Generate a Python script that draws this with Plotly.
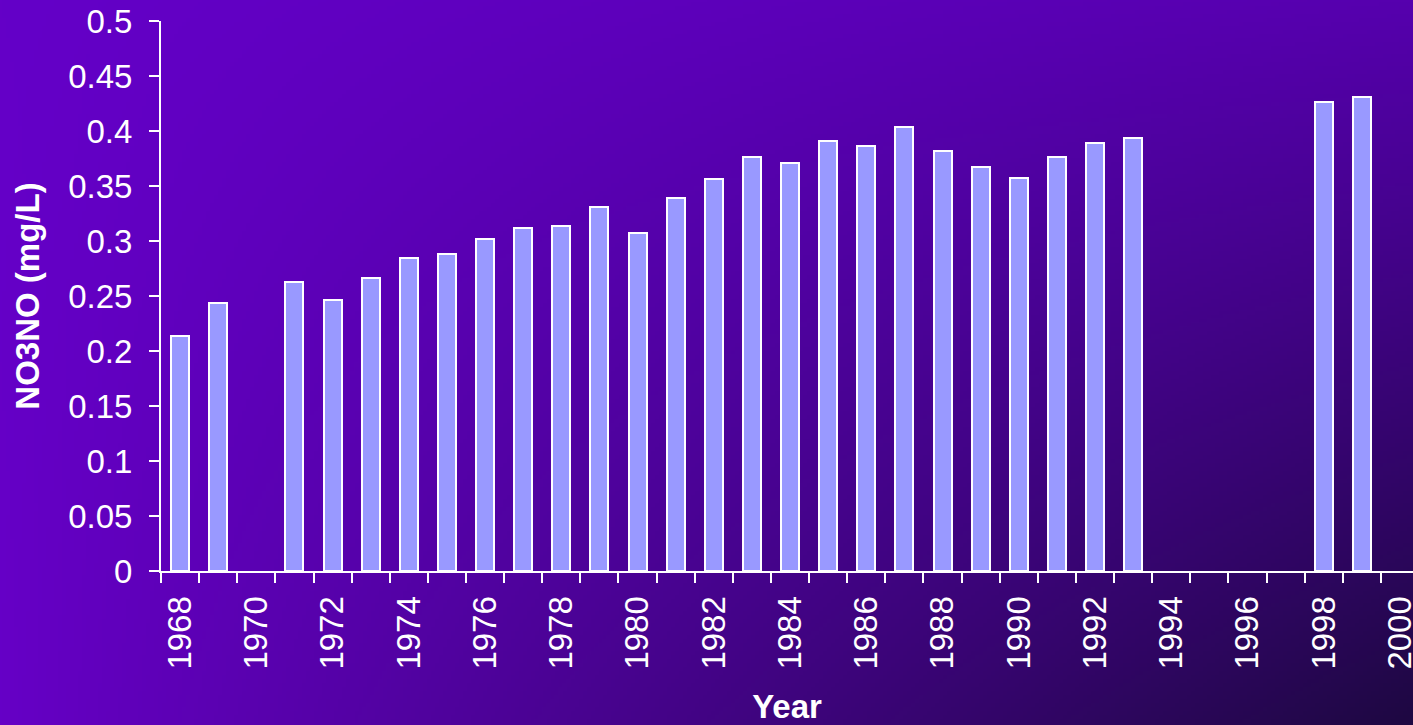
import base64
import struct
import zlib

import numpy as np
import plotly.graph_objects as go

# ---------------- data ----------------
years = [1968, 1969, 1970, 1971, 1972, 1973, 1974, 1975, 1976, 1977, 1978,
         1979, 1980, 1981, 1982, 1983, 1984, 1985, 1986, 1987, 1988, 1989,
         1990, 1991, 1992, 1993, 1994, 1995, 1996, 1997, 1998, 1999, 2000]
no3_values = [0.214, 0.244, None, 0.263, 0.246, 0.266, 0.285, 0.288, 0.302,
              0.312, 0.314, 0.331, 0.307, 0.339, 0.356, 0.376, 0.371, 0.391,
              0.386, 0.404, 0.382, 0.367, 0.357, 0.376, 0.389, 0.394, None,
              None, None, None, 0.426, 0.431, None]
x_tick_labels = ["1968", "1970", "1972", "1974", "1976", "1978", "1980",
                 "1982", "1984", "1986", "1988", "1990", "1992", "1994",
                 "1996", "1998", "2000"]
y_tick_labels = ["0", "0.05", "0.1", "0.15", "0.2", "0.25", "0.3", "0.35",
                 "0.4", "0.45", "0.5"]

# ---------------- background gradient image ----------------
W, H = 1413, 725
ML, MR, MT, MB = 161, 0, 21, 154


def corner_gradient(w, h):
    tl = np.array([100, 0, 200], float)
    tr = np.array([86, 0, 174], float)
    bl = np.array([102, 0, 198], float)
    br = np.array([30, 8, 66], float)
    u = np.linspace(0, 1, w)[None, :, None]
    v = np.linspace(0, 1, h)[:, None, None]
    img = (tl * (1 - u) * (1 - v) + tr * u * (1 - v)
           + bl * (1 - u) * v + br * u * v)
    return np.clip(img, 0, 255).astype(np.uint8)


def png_uri(arr):
    h, w, _ = arr.shape
    raw = b"".join(b"\x00" + arr[r].tobytes() for r in range(h))

    def chunk(tag, data):
        c = struct.pack(">I", len(data)) + tag + data
        return c + struct.pack(">I", zlib.crc32(tag + data) & 0xFFFFFFFF)

    png = (b"\x89PNG\r\n\x1a\n"
           + chunk(b"IHDR", struct.pack(">IIBBBBB", w, h, 8, 2, 0, 0, 0))
           + chunk(b"IDAT", zlib.compress(raw, 9))
           + chunk(b"IEND", b""))
    return "data:image/png;base64," + base64.b64encode(png).decode()


bg_uri = png_uri(corner_gradient(353, 181))

plot_w = W - ML - MR
plot_h = H - MT - MB

# ---------------- figure ----------------
font_family = "Liberation Sans, Arial, sans-serif"

fig = go.Figure()
fig.add_trace(go.Bar(
    x=years,
    y=no3_values,
    width=0.47,
    marker=dict(color="#9999ff", line=dict(color="#ffffff", width=2)),
    hoverinfo="x+y",
))

fig.add_layout_image(dict(
    source=bg_uri,
    xref="paper", yref="paper",
    x=-ML / plot_w, y=1 + MT / plot_h,
    sizex=W / plot_w, sizey=H / plot_h,
    xanchor="left", yanchor="top",
    sizing="stretch", layer="below",
))

fig.update_layout(
    width=W, height=H,
    margin=dict(l=ML, r=MR, t=MT, b=MB, pad=0),
    paper_bgcolor="#4a0098",
    plot_bgcolor="rgba(0,0,0,0)",
    showlegend=False,
    font=dict(family=font_family, color="#ffffff", size=33),
    bargap=0,
)

fig.update_xaxes(
    range=[1967.5, 2000.34],
    tickmode="array",
    tickvals=[int(t) for t in x_tick_labels],
    ticktext=x_tick_labels,
    tickangle=-90,
    ticks="",
    ticklabelstandoff=10,
    ticklabeloverflow="allow",
    tickfont=dict(size=33, color="#ffffff"),
    minor=dict(
        tickmode="array",
        tickvals=[y - 0.5 for y in years],
        ticks="outside", ticklen=10, tickwidth=2, tickcolor="#ffffff",
        showgrid=False,
    ),
    showline=True, linecolor="#ffffff", linewidth=2,
    showgrid=False, zeroline=False,
    title=dict(text="<b>Year</b>", font=dict(size=33, color="#ffffff"),
               standoff=33),
    automargin=False,
)

fig.update_yaxes(
    range=[0, 0.5],
    tickmode="array",
    tickvals=[float(t) for t in y_tick_labels],
    ticktext=y_tick_labels,
    ticks="outside", ticklen=10, tickwidth=2, tickcolor="#ffffff",
    ticklabelstandoff=10,
    tickfont=dict(size=33, color="#ffffff"),
    showline=True, linecolor="#ffffff", linewidth=2,
    showgrid=False, zeroline=False,
    title=dict(text="<b>NO3NO (mg/L)</b>", font=dict(size=33, color="#ffffff"),
               standoff=19),
    automargin=False,
)

fig.write_html(
    "out.html",
    config={"displayModeBar": False},
    post_script="document.body.style.margin='0';"
                "document.body.style.background='#1e0842';",
)
